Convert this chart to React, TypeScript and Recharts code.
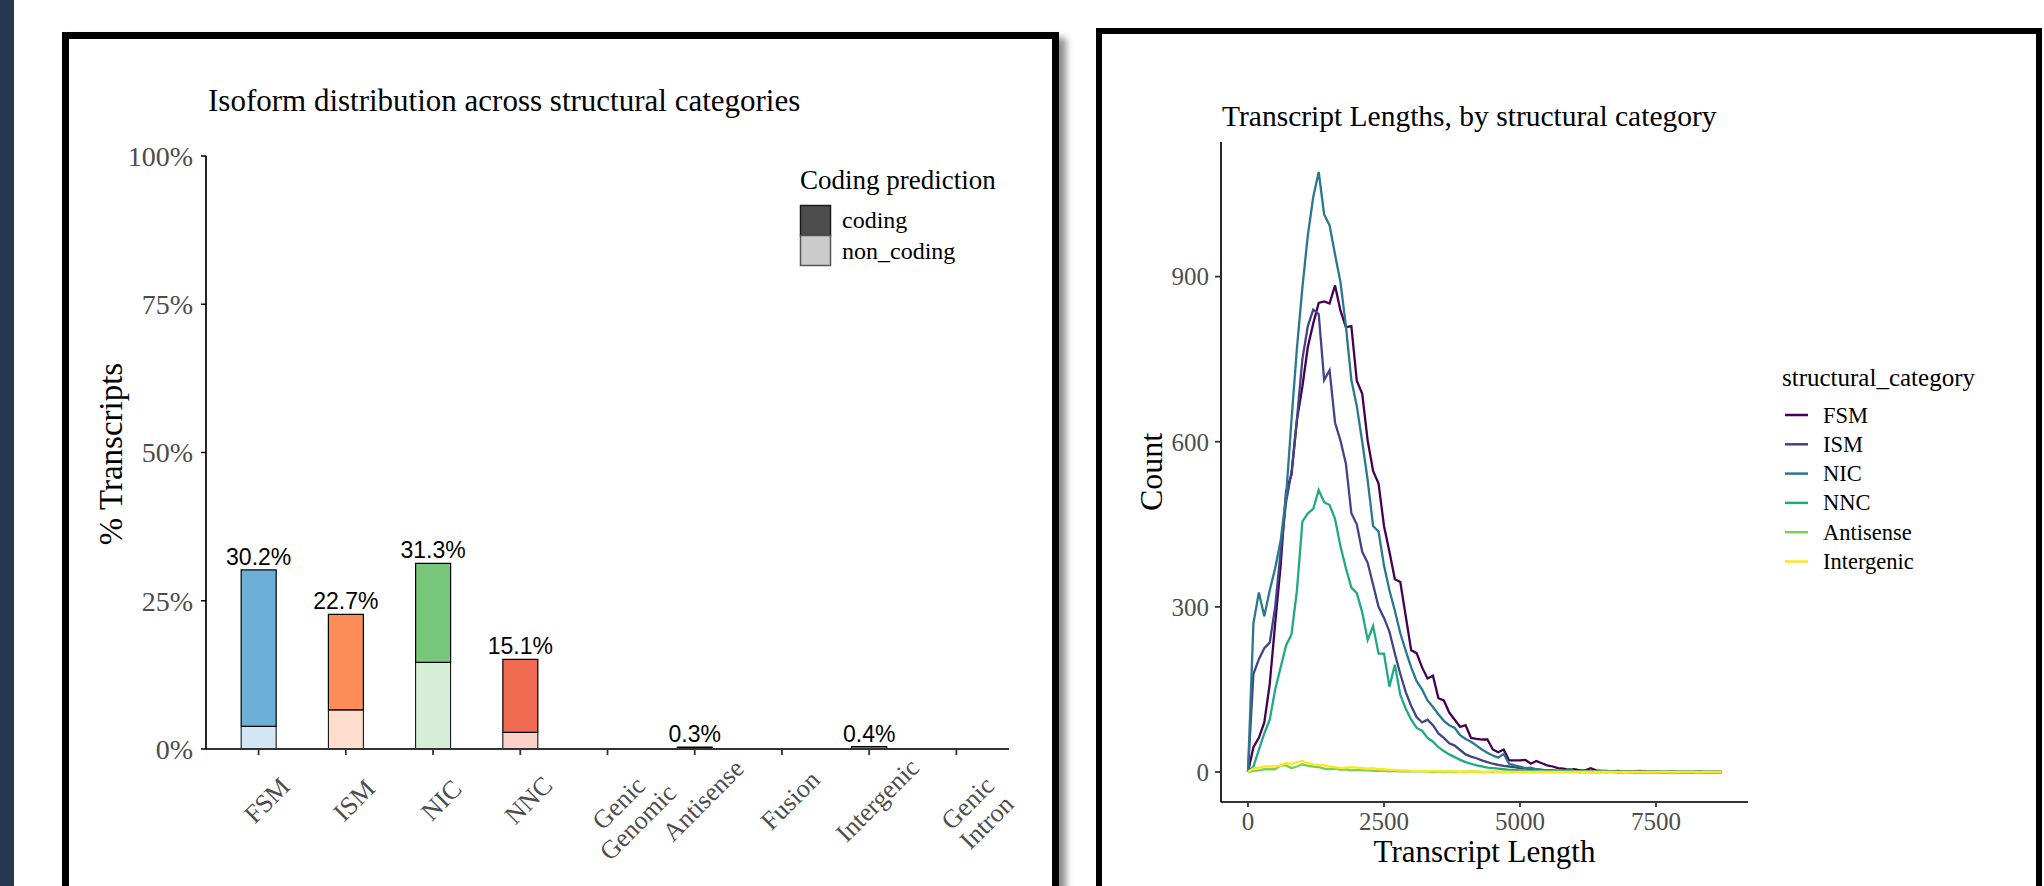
import React from 'react'
import {
  BarChart,
  Bar,
  Cell,
  LabelList,
  LineChart,
  Line,
  XAxis,
  YAxis,
  Legend
} from 'recharts'

const SERIF = '"Liberation Serif", "DejaVu Serif", serif'
const SANS = '"Liberation Sans", Arial, sans-serif'

// ---- left chart: isoform distribution ----
const categories = [
  'FSM',
  'ISM',
  'NIC',
  'NNC',
  'Genic\nGenomic',
  'Antisense',
  'Fusion',
  'Intergenic',
  'Genic\nIntron'
]
const codingPct = [26.4, 16.1, 16.7, 12.3, 0, 0.2, 0, 0.3, 0]
const nonCodingPct = [3.8, 6.6, 14.6, 2.8, 0, 0.1, 0, 0.1, 0]
const totalLabels = ['30.2%', '22.7%', '31.3%', '15.1%', '', '0.3%', '', '0.4%', '']
const catColors = [
  '#6BAED6',
  '#FC8D59',
  '#78C679',
  '#EE6A50',
  '#BDBDBD',
  '#9E9AC8',
  '#BDBDBD',
  '#FDD0A2',
  '#BDBDBD'
]
const pctTicks = [0, 25, 50, 75, 100]
const codingLevels = [
  { name: 'coding', fill: '#4D4D4D', stroke: '#1a1a1a' },
  { name: 'non_coding', fill: '#CCCCCC', stroke: '#555555' }
]

const barRows = categories.map((cat, i) => ({
  cat,
  coding: codingPct[i],
  non_coding: nonCodingPct[i],
  label: totalLabels[i]
}))

// ---- right chart: transcript lengths ----
const lengthBins = [
  0, 100, 200, 300, 400, 500, 600, 700, 800, 900,
  1000, 1100, 1200, 1300, 1400, 1500, 1600, 1700, 1800, 1900,
  2000, 2100, 2200, 2300, 2400, 2500, 2600, 2700, 2800, 2900,
  3000, 3100, 3200, 3300, 3400, 3500, 3600, 3700, 3800, 3900,
  4000, 4100, 4200, 4300, 4400, 4500, 4600, 4700, 4800, 4900,
  5000, 5100, 5200, 5300, 5400, 5500, 5600, 5700, 5800, 5900,
  6000, 6100, 6200, 6300, 6400, 6500, 6600, 6700, 6800, 6900,
  7000, 7100, 7200, 7300, 7400, 7500, 7600, 7700, 7800, 7900,
  8000, 8100, 8200, 8300, 8400, 8500, 8600, 8700
]
const fsmCounts = [
  0, 45, 62, 90, 160, 270, 375, 510, 540, 640,
  700, 772, 815, 852, 855, 851, 884, 838, 808, 810,
  711, 687, 602, 547, 524, 447, 400, 350, 345, 283,
  221, 216, 190, 170, 175, 134, 130, 108, 95, 82,
  85, 62, 60, 59, 59, 41, 36, 41, 21, 21,
  21, 22, 15, 20, 16, 12, 10, 7, 6, 4,
  5, 3, 3, 7, 3, 2, 2, 1, 2, 1,
  1, 1, 2, 1, 0, 1, 0, 0, 1, 0,
  0, 0, 0, 1, 0, 0, 0, 0
]
const ismCounts = [
  0, 178, 205, 225, 235, 300, 400, 490, 545, 640,
  750, 810, 840, 832, 712, 730, 635, 602, 560, 470,
  450, 400, 380, 340, 300, 280, 255, 215, 178, 145,
  120, 100, 90, 95, 85, 70, 62, 52, 48, 40,
  32, 28, 25, 21, 18, 15, 13, 11, 10, 9,
  7, 6, 5, 5, 4, 3, 3, 2, 2, 2,
  1, 1, 2, 1, 1, 1, 0, 1, 0, 0,
  1, 0, 0, 0, 0, 0, 0, 0, 0, 0,
  0, 0, 0, 0, 0, 0, 0, 0
]
const nicCounts = [
  0, 270, 326, 283, 330, 370, 420, 500, 640, 770,
  880, 975, 1045, 1090, 1013, 993, 940, 890, 810, 712,
  665, 600, 530, 447, 437, 375, 330, 293, 252, 220,
  190, 165, 150, 130, 118, 105, 93, 85, 80, 67,
  60, 55, 48, 41, 35, 30, 26, 33, 15, 12,
  10, 7, 8, 5, 4, 3, 3, 2, 2, 5,
  2, 1, 2, 1, 1, 1, 0, 1, 0, 1,
  0, 0, 0, 0, 1, 0, 0, 0, 0, 0,
  0, 0, 0, 0, 0, 0, 0, 0
]
const nncCounts = [
  0, 10, 40, 70, 95, 150, 190, 230, 250, 330,
  455, 470, 478, 512, 490, 485, 460, 410, 370, 335,
  325, 290, 240, 265, 215, 215, 155, 195, 140, 115,
  95, 80, 75, 62, 55, 45, 38, 32, 27, 22,
  18, 15, 12, 10, 8, 7, 6, 5, 4, 4,
  3, 3, 2, 2, 2, 1, 1, 1, 1, 1,
  1, 0, 1, 0, 0, 0, 1, 0, 0, 0,
  0, 0, 0, 0, 0, 0, 0, 0, 0, 0,
  0, 0, 0, 0, 0, 0, 0, 0
]
const antisenseCounts = [
  0, 2, 3, 5, 5, 5, 12, 12, 7, 10,
  14, 11, 10, 9, 6, 5, 6, 4, 5, 3,
  4, 3, 3, 2, 2, 2, 1, 2, 1, 1,
  1, 1, 1, 1, 0, 1, 0, 1, 0, 0,
  0, 1, 0, 0, 0, 0, 0, 0, 0, 0,
  0, 0, 0, 0, 0, 0, 0, 0, 0, 0,
  0, 0, 0, 0, 0, 0, 0, 0, 0, 0,
  0, 0, 0, 0, 0, 0, 0, 0, 0, 0,
  0, 0, 0, 0, 0, 0, 0, 0
]
const intergenicCounts = [
  0, 6, 8, 10, 10, 10, 12, 16, 15, 18,
  20, 16, 14, 13, 12, 10, 9, 7, 8, 9,
  8, 7, 6, 7, 5, 5, 4, 4, 3, 3,
  2, 2, 2, 1, 2, 1, 1, 1, 1, 0,
  1, 0, 1, 0, 0, 1, 0, 0, 0, 0,
  0, 0, 0, 0, 0, 0, 0, 0, 0, 0,
  0, 0, 0, 0, 0, 0, 0, 0, 0, 0,
  0, 0, 0, 0, 0, 0, 0, 0, 0, 0,
  0, 0, 0, 0, 0, 0, 0, 0
]
const lengthSeries = [
  { name: 'FSM', color: '#440154', values: fsmCounts },
  { name: 'ISM', color: '#414487', values: ismCounts },
  { name: 'NIC', color: '#2A788E', values: nicCounts },
  { name: 'NNC', color: '#22A884', values: nncCounts },
  { name: 'Antisense', color: '#7AD151', values: antisenseCounts },
  { name: 'Intergenic', color: '#FDE725', values: intergenicCounts }
]
const lengthTicks = [0, 2500, 5000, 7500]
const countTicks = [0, 300, 600, 900]

const lengthRows = lengthBins.map((len, i) => {
  const row: any = { len }
  lengthSeries.forEach(s => {
    row[s.name] = s.values[i]
  })
  return row
})

// rotated category labels under the bars
const CatTick = (props: any) => {
  const { x, y, payload } = props
  const lines = String(payload.value).split('\n')
  return (
    <g transform={`translate(${x + 8},${y + 43}) rotate(-45)`}>
      <text textAnchor="middle" fill="#4d4d4d" fontSize={26} fontFamily={SERIF}>
        {lines.map((l, i) => (
          <tspan key={i} x={0} y={lines.length > 1 ? 4 + i * 27 : 0} dy="0.35em">
            {l}
          </tspan>
        ))}
      </text>
    </g>
  )
}

const renderTotal = (props: any) => {
  const { x, y, width, value } = props
  if (!value) return null
  return (
    <text
      x={x + width / 2}
      y={y - 5}
      textAnchor="middle"
      fontFamily={SANS}
      fontSize={23}
      fill="#000"
    >
      {value}
    </text>
  )
}

const renderCodingLegend = () => (
  <svg width={260} height={130}>
    <text x={10} y={39} fontFamily={SERIF} fontSize={27} fill="#000">
      Coding prediction
    </text>
    {codingLevels.map((lv, i) => (
      <g key={lv.name}>
        <rect
          x={10.5}
          y={55.5 + i * 30}
          width={30}
          height={30}
          fill={lv.fill}
          stroke={lv.stroke}
          strokeWidth={1.5}
        />
        <text
          x={52}
          y={70 + i * 31}
          dominantBaseline="central"
          fontFamily={SERIF}
          fontSize={24}
          fill="#000"
        >
          {lv.name}
        </text>
      </g>
    ))}
  </svg>
)

// legend keeps the factor order of the series, not alphabetical
const renderLengthLegend = () => (
  <svg width={260} height={240}>
    <text x={0} y={46} fontFamily={SERIF} fontSize={25} fill="#000">
      structural_category
    </text>
    {lengthSeries.map((s, i) => (
      <g key={s.name}>
        <line
          x1={3}
          x2={26}
          y1={75 + i * 29.3}
          y2={75 + i * 29.3}
          stroke={s.color}
          strokeWidth={2.5}
        />
        <text
          x={41}
          y={75 + i * 29.3}
          dominantBaseline="central"
          fontFamily={SERIF}
          fontSize={22.5}
          fill="#000"
        >
          {s.name}
        </text>
      </g>
    ))}
  </svg>
)

const App = () => {
  return (
    <div
      style={{
        position: 'fixed',
        left: 0,
        top: 0,
        width: 2044,
        height: 886,
        background: '#fff',
        overflow: 'hidden',
        fontFamily: SERIF
      }}
    >
      <div
        style={{
          position: 'absolute',
          left: 0,
          top: 0,
          width: 14,
          height: 886,
          background: '#233752'
        }}
      />
      <div
        style={{
          position: 'absolute',
          left: 62,
          top: 32,
          width: 983,
          height: 900,
          border: '7px solid #000',
          boxShadow: '7px 6px 7px rgba(0,0,0,0.45)',
          background: '#fff'
        }}
      />
      <div
        style={{
          position: 'absolute',
          left: 1096,
          top: 28,
          width: 934,
          height: 900,
          border: '6.5px solid #000',
          background: '#fff'
        }}
      />

      <div style={{ position: 'absolute', left: 0, top: 0 }}>
        <BarChart
          width={1060}
          height={886}
          data={barRows}
          barCategoryGap="30%"
          margin={{ top: 156, right: 51, left: 146, bottom: 77 }}
        >
          <XAxis
            dataKey="cat"
            interval={0}
            height={60}
            padding={{ left: 9, right: 9 }}
            tick={<CatTick />}
            tickSize={6}
            tickLine={{ stroke: '#333', strokeWidth: 1.8 }}
            axisLine={{ stroke: '#333', strokeWidth: 2 }}
          />
          <YAxis
            type="number"
            domain={[0, 100]}
            ticks={pctTicks}
            width={60}
            tickFormatter={v => `${v}%`}
            tickSize={5}
            tickMargin={8}
            tick={{ fill: '#4d4d4d', fontSize: 28, fontFamily: SERIF }}
            tickLine={{ stroke: '#000', strokeWidth: 1.5 }}
            axisLine={{ stroke: '#000', strokeWidth: 1.7 }}
          />
          <Legend
            layout="vertical"
            align="center"
            verticalAlign="middle"
            content={renderCodingLegend}
            wrapperStyle={{ left: 790, top: 150, width: 260, height: 130 }}
          />
          <Bar
            dataKey="non_coding"
            stackId="a"
            stroke="#000"
            strokeWidth={1}
            isAnimationActive={false}
          >
            {barRows.map((r, i) => (
              <Cell key={`nc-${i}`} fill={catColors[i]} fillOpacity={0.3} />
            ))}
          </Bar>
          <Bar
            dataKey="coding"
            stackId="a"
            stroke="#000"
            strokeWidth={1.2}
            isAnimationActive={false}
          >
            {barRows.map((r, i) => (
              <Cell key={`c-${i}`} fill={catColors[i]} />
            ))}
            <LabelList dataKey="label" content={renderTotal} />
          </Bar>
        </BarChart>
      </div>

      <div style={{ position: 'absolute', left: 1100, top: 0 }}>
        <LineChart
          width={940}
          height={886}
          data={lengthRows}
          margin={{ top: 142, right: 292, left: 61, bottom: 44 }}
        >
          <XAxis
            dataKey="len"
            type="number"
            domain={[-496, 9191]}
            ticks={lengthTicks}
            allowDataOverflow
            height={40}
            tickSize={5}
            tickMargin={5}
            tick={{ fill: '#4d4d4d', fontSize: 25, fontFamily: SERIF }}
            tickLine={{ stroke: '#333', strokeWidth: 1.8 }}
            axisLine={{ stroke: '#333', strokeWidth: 2 }}
          />
          <YAxis
            type="number"
            domain={[-54.5, 1144.5]}
            ticks={countTicks}
            allowDataOverflow
            width={60}
            tickSize={6}
            tickMargin={6}
            tick={{ fill: '#4d4d4d', fontSize: 25, fontFamily: SERIF }}
            tickLine={{ stroke: '#333', strokeWidth: 1.8 }}
            axisLine={{ stroke: '#000', strokeWidth: 1.7 }}
          />
          <Legend
            layout="vertical"
            align="center"
            verticalAlign="middle"
            content={renderLengthLegend}
            wrapperStyle={{ left: 682, top: 340, width: 260, height: 240 }}
          />
          {lengthSeries.map(s => (
            <Line
              key={s.name}
              type="linear"
              dataKey={s.name}
              name={s.name}
              stroke={s.color}
              strokeWidth={2.3}
              dot={false}
              isAnimationActive={false}
            />
          ))}
        </LineChart>
      </div>

      <svg
        width={2044}
        height={886}
        style={{ position: 'absolute', left: 0, top: 0, pointerEvents: 'none' }}
      >
        <text x={208} y={111} fontFamily={SERIF} fontSize={31} fill="#000">
          Isoform distribution across structural categories
        </text>
        <text
          transform="translate(122,454) rotate(-90)"
          textAnchor="middle"
          fontFamily={SERIF}
          fontSize={33}
          fill="#000"
        >
          % Transcripts
        </text>
        <text x={1222} y={126} fontFamily={SERIF} fontSize={29.5} fill="#000">
          Transcript Lengths, by structural category
        </text>
        <text
          transform="translate(1162,472) rotate(-90)"
          textAnchor="middle"
          fontFamily={SERIF}
          fontSize={32}
          fill="#000"
        >
          Count
        </text>
        <text
          x={1484.5}
          y={862}
          textAnchor="middle"
          fontFamily={SERIF}
          fontSize={31}
          fill="#000"
        >
          Transcript Length
        </text>
      </svg>
    </div>
  )
}

export default App
